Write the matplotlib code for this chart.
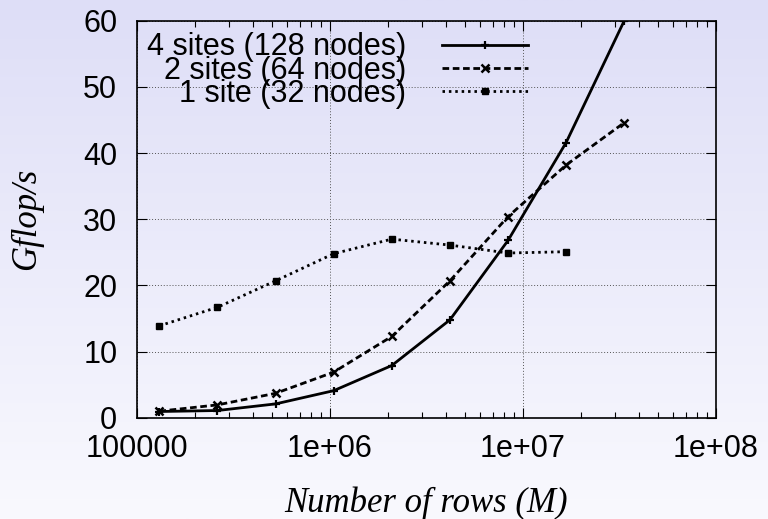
import numpy as np
import matplotlib.pyplot as plt
from matplotlib.ticker import LogLocator, NullFormatter

# data
rows = [131072, 262144, 524288, 1048576, 2097152, 4194304, 8388608, 16777216, 33554432]
gflops_4sites = [0.95, 1.1, 2.1, 4.1, 7.9, 14.8, 26.8, 41.6, 60.0]
gflops_2sites = [1.0, 1.95, 3.7, 6.9, 12.3, 20.7, 30.4, 38.2, 44.6]
gflops_1site = [13.9, 16.7, 20.7, 24.8, 27.0, 26.1, 24.9, 25.1]

labels = ["4 sites (128 nodes)", "2 sites (64 nodes)", "1 site (32 nodes)"]
xticks = [1e5, 1e6, 1e7, 1e8]
xtick_labels = ["100000", "1e+06", "1e+07", "1e+08"]
yticks = [0, 10, 20, 30, 40, 50, 60]

plt.rcParams["font.family"] = ["Liberation Sans", "DejaVu Sans"]

fig = plt.figure(figsize=(7.68, 5.19), dpi=100)

# lavender gradient background
bg = fig.add_axes([0, 0, 1, 1], zorder=-10)
top = np.array([222, 222, 247]) / 255.0
bottom = np.array([249, 249, 254]) / 255.0
t = np.linspace(0, 1, 256)[:, None]
grad = (top * (1 - t) + bottom * t)[:, None, :]
bg.imshow(grad, aspect="auto", extent=[0, 1, 0, 1])
bg.axis("off")

ax = fig.add_axes([0.178, 0.195, 0.754, 0.765])
ax.patch.set_alpha(0)

ax.plot(rows, gflops_4sites, color="black", lw=2, ls="-",
        marker="+", ms=6, mew=1.6, label=labels[0])
ax.plot(rows, gflops_2sites, color="black", lw=2, ls=(0, (2.4, 1.3)),
        marker="x", ms=5.5, mew=1.8, label=labels[1])
ax.plot(rows[:len(gflops_1site)], gflops_1site, color="black", lw=2, ls=(0, (0.9, 1.4)),
        marker="s", ms=5, mew=1, label=labels[2])

ax.set_xscale("log")
ax.set_xlim(1e5, 1e8)
ax.set_ylim(0, 60)
ax.set_xticks(xticks)
ax.set_xticklabels(xtick_labels)
ax.xaxis.set_minor_locator(LogLocator(base=10, subs=np.arange(2, 10)))
ax.xaxis.set_minor_formatter(NullFormatter())
ax.set_yticks(yticks)

ax.tick_params(which="both", direction="in", top=True, right=True, labelsize=22,
               width=0.8, color="black")
ax.tick_params(which="major", length=7)
ax.tick_params(which="minor", length=4)
ax.tick_params(axis="y", pad=14)
ax.tick_params(axis="x", pad=12)

ax.grid(True, which="major", color="#555555", ls=(0, (1, 2)), lw=0.7)
for s in ax.spines.values():
    s.set_linewidth(1.2)

ax.set_xlabel("Number of rows (M)", family="Liberation Serif", style="italic", fontsize=25)
ax.set_ylabel("Gflop/s", family="Liberation Serif", style="italic", fontsize=25)
ax.xaxis.set_label_coords(0.5, -0.174)
ax.yaxis.set_label_coords(-0.162, 0.5)

leg = ax.legend(loc="upper left", bbox_to_anchor=(0.017, 0.971), frameon=False,
                markerfirst=False, fontsize=22, handlelength=2.8, handletextpad=1.2,
                labelspacing=-0.22, borderaxespad=0, borderpad=0)

fig.savefig("out.png", dpi=100)
